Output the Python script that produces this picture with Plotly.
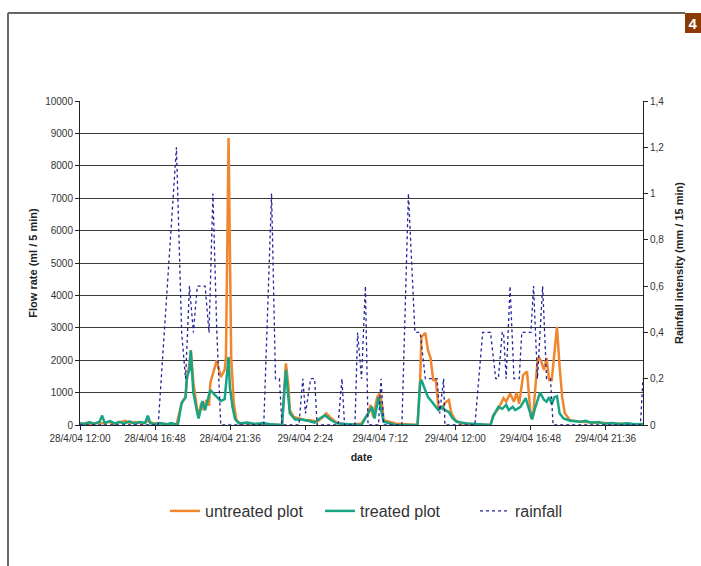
import datetime as dt
import plotly.graph_objects as go

START = dt.datetime(2004, 4, 28, 12, 0)

# ---- untreated plot (ml / 5 min), elapsed minutes since 28/4/04 12:00 ----
untreated_minutes = [0, 25, 45, 70, 85, 110, 130, 155, 175, 190, 215, 240, 260, 285, 305, 330, 355,
                     370, 390, 405, 410, 420, 425, 435, 450, 455, 465, 475, 485, 495, 500, 510, 525,
                     540, 555, 560, 570, 580, 590, 600, 615, 645, 675, 705, 730, 770, 775, 790, 800,
                     805, 820, 840, 865, 885, 910, 930, 945, 965, 985, 1030, 1080, 1105, 1115, 1125,
                     1140, 1150, 1160, 1165, 1185, 1210, 1295, 1305, 1310, 1325, 1335, 1345, 1355,
                     1365, 1375, 1390, 1400, 1415, 1425, 1440, 1460, 1515, 1575, 1585, 1605, 1625,
                     1635, 1650, 1665, 1675, 1685, 1700, 1715, 1720, 1730, 1740, 1755, 1760, 1770,
                     1780, 1790, 1800, 1810, 1820, 1830, 1840, 1850, 1860, 1880, 1920, 1960, 2000,
                     2035, 2075, 2110, 2160]
untreated_flow = [30, 60, 20, 80, 50, 100, 40, 80, 130, 60, 90, 40, 120, 40, 60, 30, 20,
                  0, 680, 860, 1390, 1900, 2310, 1300, 460, 250, 680, 460, 770, 600, 1300, 1600, 2000,
                  1480, 1700, 2100, 8860, 2100, 680, 150, 40, 60, 20, 30, 10, 0, 0, 1900, 1170,
                  460, 250, 200, 150, 150, 100, 230, 360, 200, 70, 0, 50, 360, 620, 250,
                  860, 970, 560, 150, 100, 50, 0, 1390, 2720, 2840, 2310, 2070, 1390,
                  1390, 560, 500, 680, 770, 360, 150, 50, 20, 0, 300, 500, 830,
                  720, 970, 720, 1000, 650, 1540, 1650, 1170, 200, 460, 1950, 2100, 1950,
                  1700, 2070, 1390, 1390, 2220, 3030, 1800, 860, 360, 150, 100, 80, 60,
                  40, 30, 20, 10]

# ---- treated plot (ml / 5 min) ----
treated_minutes = [0, 15, 35, 55, 75, 85, 95, 115, 135, 150, 170, 190, 210, 230, 250, 260, 270,
                   290, 310, 330, 350, 375, 390, 405, 410, 420, 425, 435, 450, 455, 465, 470, 480,
                   495, 500, 510, 525, 540, 555, 570, 575, 585, 595, 610, 640, 670, 700, 730, 760,
                   775, 790, 800, 805, 825, 850, 875, 900, 920, 940, 960, 985, 1080, 1105, 1120,
                   1130, 1140, 1145, 1155, 1165, 1210, 1295, 1305, 1310, 1320, 1335, 1350, 1365,
                   1375, 1390, 1400, 1415, 1430, 1445, 1485, 1575, 1585, 1605, 1620, 1635, 1645,
                   1660, 1670, 1690, 1710, 1720, 1735, 1745, 1760, 1765, 1780, 1790, 1800, 1810,
                   1820, 1830, 1840, 1855, 1880, 1920, 1940, 1960, 1990, 2010, 2040, 2070, 2100,
                   2130, 2160]
treated_flow = [60, 20, 90, 30, 100, 290, 60, 120, 40, 100, 50, 110, 40, 90, 60, 290, 50,
                30, 50, 20, 60, 0, 680, 860, 1480, 1700, 2300, 990, 370, 200, 560, 740, 460,
                990, 1080, 990, 860, 740, 800, 2100, 1170, 560, 180, 50, 80, 30, 60, 20, 10,
                0, 1700, 770, 360, 170, 170, 130, 70, 200, 300, 170, 50, 0, 360, 560,
                200, 620, 860, 460, 100, 0, 0, 1300, 1390, 1170, 860, 720, 560,
                460, 560, 460, 400, 200, 100, 50, 0, 260, 560, 500, 620, 460,
                560, 460, 560, 830, 560, 170, 500, 830, 1000, 780, 720, 860, 650,
                860, 890, 360, 200, 130, 100, 130, 70, 90, 40, 60, 30, 50,
                20, 30]

# ---- rainfall (mm / 15 min) ----
rain_minutes = [0, 300, 370, 390, 405, 420, 435, 450, 480, 495, 510, 525, 540,
                705, 735, 750, 765, 775,
                840, 855, 865, 885, 900, 910, 990, 1005, 1015,
                1055, 1065, 1080, 1095, 1105, 1145, 1155, 1165,
                1235, 1260, 1285, 1305, 1325, 1370, 1380, 1395, 1400,
                1515, 1545, 1575, 1595, 1605, 1620, 1625, 1635, 1650, 1665, 1685, 1695,
                1730, 1740, 1755, 1775, 1790, 1805, 1815, 2150, 2160]
rain_mm = [0, 0, 1.2, 0.4, 0.2, 0.6, 0.4, 0.6, 0.6, 0.4, 1.0, 0.4, 0,
           0, 1.0, 0.2, 0.2, 0,
           0, 0.2, 0.05, 0.2, 0.2, 0, 0, 0.2, 0,
           0, 0.4, 0.2, 0.6, 0, 0, 0.2, 0,
           0, 1.0, 0.4, 0.4, 0.2, 0.2, 0.05, 0.2, 0,
           0, 0.4, 0.4, 0.2, 0.2, 0.4, 0.4, 0.2, 0.6, 0.2, 0.2, 0.4,
           0.4, 0.6, 0.2, 0.6, 0.2, 0.2, 0, 0, 0.2]

# ---- axis ticks ----
x_tick_minutes = [0, 288, 576, 864, 1152, 1440, 1728, 2016]
x_tick_labels = ["28/4/04 12:00", "28/4/04 16:48", "28/4/04 21:36", "29/4/04 2:24",
                 "29/4/04 7:12", "29/4/04 12:00", "29/4/04 16:48", "29/4/04 21:36"]
flow_ticks = [0, 1000, 2000, 3000, 4000, 5000, 6000, 7000, 8000, 9000, 10000]
rain_ticks = [0, 0.2, 0.4, 0.6, 0.8, 1.0, 1.2, 1.4]
rain_tick_labels = ["0", "0,2", "0,4", "0,6", "0,8", "1", "1,2", "1,4"]


def to_time(mins):
    return [START + dt.timedelta(minutes=m) for m in mins]


FONT = "Liberation Sans, Arial, sans-serif"
fig = go.Figure()
fig.add_trace(go.Scatter(x=to_time(untreated_minutes), y=untreated_flow, mode="lines",
                         name="untreated plot", line=dict(color="#F0862E", width=2.5)))
fig.add_trace(go.Scatter(x=to_time(treated_minutes), y=treated_flow, mode="lines",
                         name="treated plot", line=dict(color="#16A484", width=2.5)))
fig.add_trace(go.Scatter(x=to_time(rain_minutes), y=rain_mm, mode="lines", yaxis="y2",
                         name="rainfall", line=dict(color="#23239A", width=1.3, dash="dot")))

fig.update_layout(
    width=701, height=566,
    margin=dict(l=80, r=58, t=101, b=141),
    paper_bgcolor="white", plot_bgcolor="white",
    font=dict(family=FONT, color="#333333", size=10),
    showlegend=True,
    legend=dict(orientation="h", x=(165 - 80) / 563, xanchor="left",
                y=(425 - 511) / 324, yanchor="middle",
                font=dict(size=16, color="#333333"), entrywidth=110, entrywidthmode="pixels",
                bgcolor="rgba(0,0,0,0)"),
    xaxis=dict(type="date", range=[START, START + dt.timedelta(minutes=2160)],
               tickvals=to_time(x_tick_minutes), ticktext=x_tick_labels,
               showgrid=False, zeroline=False, showline=True, linecolor="#222222", linewidth=1,
               ticks="outside", ticklen=4, tickcolor="#222222",
               tickfont=dict(size=10, color="#333333"),
               title=dict(text="<b>date</b>", font=dict(size=10.5, color="#222222"), standoff=10)),
    yaxis=dict(range=[0, 10000], tickvals=flow_ticks, ticktext=[str(v) for v in flow_ticks],
               showgrid=True, gridcolor="#3a3a3a", gridwidth=1, zeroline=False,
               showline=True, linecolor="#222222", linewidth=1,
               ticks="outside", ticklen=4, tickcolor="#222222",
               tickfont=dict(size=10, color="#333333"),
               title=dict(text="<b>Flow rate (ml / 5 min)</b>", font=dict(size=11, color="#222222"),
                          standoff=5)),
    yaxis2=dict(range=[0, 1.4], overlaying="y", side="right", tickvals=rain_ticks,
                ticktext=rain_tick_labels, showgrid=False, zeroline=False,
                showline=True, linecolor="#222222", linewidth=1,
                ticks="outside", ticklen=4, tickcolor="#222222",
                tickfont=dict(size=10, color="#333333"),
                title=dict(text="<b>Rainfall intensity (mm / 15 min)</b>",
                           font=dict(size=11, color="#222222"), standoff=11)),
)

# page frame and page-number badge
px_x = lambda p: (p - 80) / 563
px_y = lambda p: (425 - p) / 324
fig.add_shape(type="line", xref="paper", yref="paper", x0=px_x(8), x1=px_x(685),
              y0=px_y(13), y1=px_y(13), line=dict(color="#666666", width=2))
fig.add_shape(type="line", xref="paper", yref="paper", x0=px_x(8), x1=px_x(8),
              y0=px_y(13), y1=px_y(570), line=dict(color="#666666", width=2))
fig.add_annotation(xref="paper", yref="paper", x=px_x(685), y=px_y(13),
                   xanchor="left", yanchor="top", text="<b>4</b>", showarrow=False,
                   width=16, height=20, bgcolor="#8C3B06", borderpad=0, borderwidth=0,
                   align="center", valign="middle",
                   font=dict(size=15, color="white", family=FONT))

fig.write_html("out.html")
